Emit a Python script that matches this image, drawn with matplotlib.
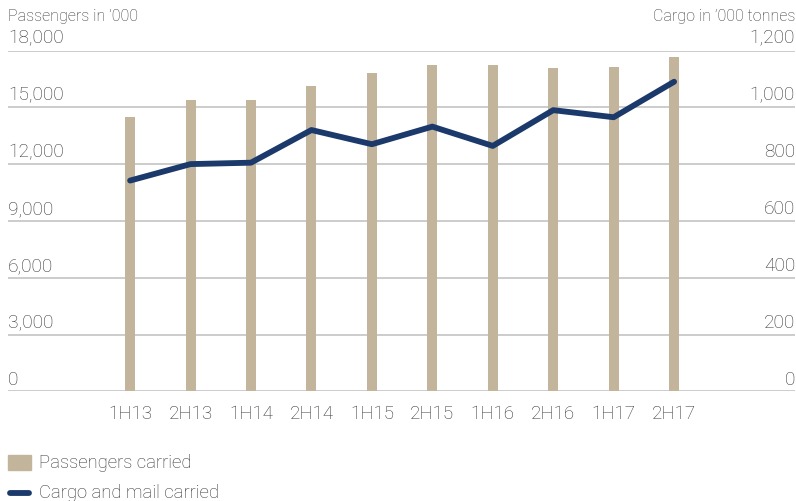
import numpy as np
import matplotlib.pyplot as plt
from matplotlib.patches import Rectangle
from matplotlib.lines import Line2D

plt.rcParams['font.family'] = ['Roboto', 'DejaVu Sans']
plt.rcParams['font.weight'] = 'light'

periods = ['1H13', '2H13', '1H14', '2H14', '1H15', '2H15', '1H16', '2H16', '1H17', '2H17']
passengers = [14500, 15400, 15400, 16100, 16800, 17250, 17250, 17100, 17150, 17650]   # '000
cargo = [742, 800, 805, 920, 870, 932, 864, 990, 965, 1090]                            # '000 tonnes

left_ticks = [0, 3000, 6000, 9000, 12000, 15000, 18000]
right_ticks = [0, 200, 400, 600, 800, 1000, 1200]

bar_color = '#c2b59b'
line_color = '#1b3a6b'
text_color = '#333333'
grid_color = '#c8c8c8'

W, H = 796, 501
fig = plt.figure(figsize=(W / 100, H / 100), dpi=100)
ax = fig.add_axes([8 / W, (H - 391.3) / H, 787 / W, 340.8 / H])
ax2 = ax.twinx()

x = np.arange(len(periods))
ax.bar(x, passengers, width=10 / 60.44, color=bar_color, zorder=2)
ax2.plot(x, cargo, color=line_color, lw=4.2, solid_capstyle='round',
         solid_joinstyle='round', zorder=3)

ax.set_xlim(-2.02, 11.0)
ax.set_ylim(0, 18000)
ax2.set_ylim(0, 1200)

# gridlines drawn by hand so they sit under the bars
for t in left_ticks:
    ax.axhline(t, color=grid_color, lw=1.3, zorder=1)

for a in (ax, ax2):
    for s in a.spines.values():
        s.set_visible(False)
    a.set_yticks([])
ax.set_xticks(x)
ax.set_xticklabels(periods, fontsize=13.5, color=text_color)
ax.tick_params(axis='x', length=0, pad=10)

ytr = ax.get_yaxis_transform()
for t in left_ticks:
    ax.annotate(f'{t:,}', (0, t), xycoords=ytr, xytext=(0, 2), textcoords='offset points',
                ha='left', va='bottom', fontsize=13.8, color=text_color)
ytr2 = ax2.get_yaxis_transform()
for t in right_ticks:
    ax2.annotate(f'{t:,}', (1, t), xycoords=ytr2, xytext=(0, 2), textcoords='offset points',
                 ha='right', va='bottom', fontsize=13.8, color=text_color)

fig.text(8 / W, 1 - 16 / H, 'Passengers in ’000', ha='left', va='center',
         fontsize=11.5, color=text_color)
fig.text(795 / W, 1 - 16 / H, 'Cargo in ’000 tonnes', ha='right', va='center',
         fontsize=11.5, color=text_color)

# legend
fig.add_artist(Rectangle((8 / W, 1 - 470 / H), 23 / W, 15 / H,
                         transform=fig.transFigure, color=bar_color))
fig.text(39 / W, 1 - 463 / H, 'Passengers carried', ha='left', va='center',
         fontsize=13.3, color=text_color)
fig.add_artist(Line2D([10 / W, 29 / W], [1 - 492.5 / H] * 2, transform=fig.transFigure,
                      color=line_color, lw=4.2, solid_capstyle='round'))
fig.text(39 / W, 1 - 493 / H, 'Cargo and mail carried', ha='left', va='center',
         fontsize=13.3, color=text_color)

fig.savefig('out.png', dpi=100)
